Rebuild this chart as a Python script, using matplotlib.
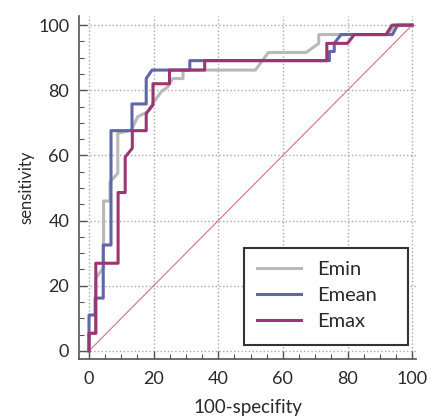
import matplotlib
matplotlib.use("Agg")
import matplotlib.pyplot as plt
from matplotlib.patches import Rectangle
from matplotlib.ticker import MultipleLocator

# ROC curves (100-specificity, sensitivity)
emin_x = [0, 0, 2.1, 2.1, 4.5, 4.5, 6.5, 6.5, 8.9, 8.9, 13.1, 15.1, 18.2, 19.8, 22.3,
          24.4, 25.9, 29.1, 29.1, 51.5, 55.5, 67.2, 71.1, 71.1, 92.5, 94.5, 100]
emin_y = [0, 5.4, 5.4, 22.3, 25.6, 46.0, 46.0, 51.9, 54.5, 66.8, 67.8, 71.9, 73.4, 76.0, 79.5,
          81.1, 83.6, 83.6, 86.2, 86.2, 91.6, 91.6, 94.4, 97.1, 97.1, 100, 100]

emean_x = [0, 0, 1.9, 1.9, 4.4, 4.4, 6.8, 6.8, 13.3, 13.3, 17.7, 17.7, 19.5, 31.2, 31.2,
           74.4, 74.4, 75.9, 75.9, 78.0, 93.9, 95.5, 100]
emean_y = [0, 11.0, 11.0, 16.2, 16.2, 32.5, 32.5, 67.6, 67.6, 75.8, 75.8, 83.6, 86.2, 86.2, 89.1,
           89.1, 91.9, 91.9, 94.4, 97.1, 97.1, 100, 100]

emax_x = [0, 0, 2.1, 2.1, 9.0, 9.0, 11.2, 11.2, 13.4, 13.4, 17.7, 17.7, 19.8, 19.8, 24.9,
          24.9, 35.8, 35.8, 73.6, 73.6, 80.0, 82.1, 91.9, 93.8, 100]
emax_y = [0, 5.4, 5.4, 26.9, 26.9, 48.6, 48.6, 59.5, 62.2, 67.6, 67.6, 72.9, 75.5, 82.0, 82.0,
          86.2, 86.2, 89.1, 89.1, 94.4, 94.4, 97.1, 97.1, 100, 100]

ref_line = [0, 100]

plt.rcParams['font.family'] = ['Lato', 'DejaVu Sans']

fig = plt.figure(figsize=(4.32, 4.16), dpi=100)
ax = fig.add_axes([79 / 432, 57 / 416, 337 / 432, 343 / 416])

# chance diagonal
ax.plot(ref_line, ref_line, color='#d9707a', lw=0.8, zorder=2)

ax.plot(emin_x, emin_y, color='#b9b9b9', lw=2.2, label='Emin', zorder=3)
ax.plot(emean_x, emean_y, color='#6266a8', lw=2.2, label='Emean', zorder=4)
ax.plot(emax_x, emax_y, color='#9c3572', lw=2.2, label='Emax', zorder=5)

ax.set_xlim(-3.1, 101.2)
ax.set_ylim(-2.5, 102.8)
ax.xaxis.set_major_locator(MultipleLocator(20))
ax.yaxis.set_major_locator(MultipleLocator(20))
ax.xaxis.set_minor_locator(MultipleLocator(5))
ax.yaxis.set_minor_locator(MultipleLocator(5))

ax.grid(True, which='major', linestyle=':', color='#a8a8a8', lw=1.0, zorder=1)
ax.set_axisbelow(True)

for side in ['top', 'right']:
    ax.spines[side].set_visible(False)
for side in ['left', 'bottom']:
    ax.spines[side].set_color('#555555')
    ax.spines[side].set_linewidth(1.2)

ax.tick_params(which='major', direction='in', length=6, width=1, color='#555555',
               labelsize=13, labelcolor='#2a2a2a')
ax.tick_params(which='minor', direction='in', length=3.5, width=0.8, color='#555555')
ax.tick_params(axis='y', which='major', pad=7)
ax.tick_params(axis='x', which='major', pad=9)

ax.set_xlabel('100-specifity', fontsize=13.5, color='#2a2a2a', labelpad=8)
ax.set_ylabel('sensitivity', fontsize=12, color='#2a2a2a', labelpad=3)

# legend box: white frame with a wider right margin, entries placed inside
box = Rectangle((0.49, 0.041), 0.486, 0.283, transform=ax.transAxes,
                facecolor='white', edgecolor='#333333', lw=1.5, zorder=6)
ax.add_patch(box)
leg = ax.legend(loc='upper left', bbox_to_anchor=(0.527, 0.287), borderaxespad=0,
                borderpad=0, fontsize=14.5, handlelength=2.2, handletextpad=0.8,
                labelspacing=0.45, frameon=False)
leg.set_zorder(7)
for t in leg.get_texts():
    t.set_color('#2a2a2a')

fig.savefig('out.png', dpi=100)
